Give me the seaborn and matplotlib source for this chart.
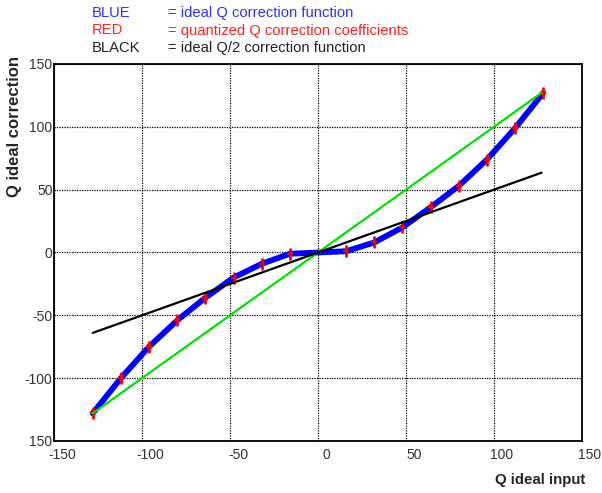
import numpy as np
import pandas as pd
import seaborn as sns
import matplotlib.pyplot as plt
from matplotlib.transforms import ScaledTranslation

# valores
q_in = [-128, -112, -96, -80, -64, -48, -32, -16, 0, 16, 32, 48, 64, 80, 96, 112, 128]
q_corr = [-128, -100, -75, -54, -36, -20, -9, -1, 0, 1, 8, 20, 36, 53, 74, 99, 127]
coef_x = [-128, -112, -96, -80, -64, -48, -32, -16, 16, 32, 48, 64, 80, 96, 112, 128]
coef_y = [-128, -100, -75, -54, -36, -20, -9, -1, 1, 8, 20, 36, 53, 74, 99, 127]
ident_x = [-128, 127]
ident_y = [-128, 127]
half_x = [-128, 127]
half_y = [-64, 63.5]

xticks = [-150, -100, -50, 0, 50, 100, 150]
yticks = [-150, -100, -50, 0, 50, 100, 150]
ytick_labels = ["150", "-100", "-50", "0", "50", "100", "150"]

sns.set_style("white")
plt.rcParams['font.family'] = ['Liberation Sans', 'DejaVu Sans']

fig = plt.figure(figsize=(6.02, 4.93), dpi=100)
ax = fig.add_axes([54 / 602, 1 - 441 / 493, 528 / 602, 377 / 493])

df_blue = pd.DataFrame({"x": q_in, "y": q_corr})
df_red = pd.DataFrame({"x": coef_x, "y": coef_y})

sns.lineplot(data=df_blue, x="x", y="y", color="#0000ff", linewidth=4.2, ax=ax, zorder=3)
sns.scatterplot(data=df_red, x="x", y="y", marker="|", s=80, linewidths=2, color="#ff0000", ax=ax, zorder=4)
sns.scatterplot(data=df_red, x="x", y="y", marker="_", s=25, linewidths=1.5, color="#ff0000", ax=ax, zorder=4)
sns.lineplot(x=ident_x, y=ident_y, color="#00e000", linewidth=1.6, ax=ax, zorder=5)
sns.lineplot(x=half_x, y=half_y, color="black", linewidth=1.6, ax=ax, zorder=6)

ax.set_xlim(-150, 150)
ax.set_ylim(-150, 150)
ax.set_xticks(xticks)
ax.set_xticklabels([str(t) for t in xticks])
ax.set_yticks(yticks)
ax.set_yticklabels(ytick_labels)
ax.tick_params(axis="y", direction="out", length=5, width=1, pad=-4, labelsize=10, labelcolor="#333333")
ax.tick_params(axis="x", direction="in", length=0, pad=5, labelsize=10, labelcolor="#333333")
ax.set_xlabel("")
ax.set_ylabel("")

ax.grid(True, color="black", linestyle=(0, (1, 1)), linewidth=0.9)
for s in ax.spines.values():
    s.set_color("black")
    s.set_linewidth(1.3)

fig.text(15 / 602, 1 - 126 / 493, "Q ideal correction", rotation=90, ha="center", va="center",
         fontsize=12, fontweight="bold")
fig.text(540 / 602, 1 - 480 / 493, "Q ideal input", ha="center", va="center",
         fontsize=10.8, fontweight="bold")

header = [("BLUE", "= ideal Q correction function", "#3030ff"),
          ("RED", "= quantized Q correction coefficients", "#ff2020"),
          ("BLACK", "= ideal Q/2 correction function", "#222222")]
for i, (k, v, c) in enumerate(header):
    yy = 1 - (13 + 17.5 * i) / 493
    fig.text(92 / 602, yy, k, color=c, fontsize=10.6, va="center")
    fig.text(168 / 602, yy, v, color=c, fontsize=10.6, va="center")

# etiquetas del eje x corridas un poco a la derecha como en el original
for lab in ax.get_xticklabels():
    lab.set_transform(lab.get_transform() + ScaledTranslation(8 / 100, 0, fig.dpi_scale_trans))

plt.savefig("out.png", dpi=100)
